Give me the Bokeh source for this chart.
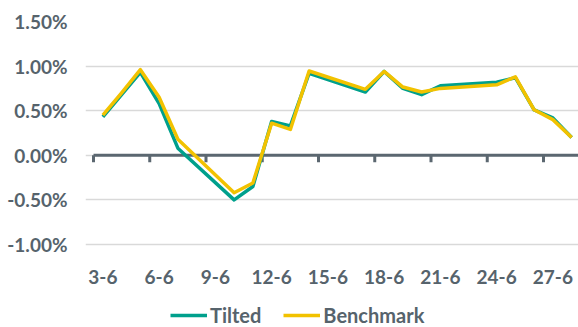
from bokeh.plotting import figure
from bokeh.models import (Range1d, FixedTicker, PrintfTickFormatter, LinearAxis,
                          Legend, LegendItem)
from bokeh.embed import file_html
from bokeh.resources import INLINE

# Daily returns in June (business days only), in percent
days = [3, 4, 5, 6, 7, 10, 11, 12, 13, 14, 17, 18, 19, 20, 21, 24, 25, 26, 27, 28]
tilted = [0.43, 0.68, 0.93, 0.58, 0.08, -0.50, -0.35, 0.38, 0.33, 0.92,
          0.71, 0.94, 0.75, 0.68, 0.78, 0.82, 0.87, 0.51, 0.42, 0.20]
benchmark = [0.45, 0.70, 0.96, 0.65, 0.18, -0.42, -0.31, 0.36, 0.29, 0.945,
             0.74, 0.94, 0.765, 0.71, 0.75, 0.79, 0.88, 0.51, 0.40, 0.20]
month = 6
label_days = [3, 6, 9, 12, 15, 18, 21, 24, 27]
y_ticks = [-1.0, -0.5, 0.0, 0.5, 1.0, 1.5]

TEAL = "#00a08c"
YELLOW = "#f2c200"
TEXT = "#56636c"
AXIS = "#5b6770"
FONT = "Lato"
FSIZE = "19px"

W, H, TOP = 578, 327, 21
LEFT = 85          # frame starts a little left of the first day slot
slot_left = 93     # pixel where the first day slot begins
day_px = 18.75     # width of one day slot

# the frame runs to the bottom edge; the room under the lowest gridline
# holds the date labels and the legend
plot_h = H - TOP
bottom_gap = 83
span = y_ticks[-1] - y_ticks[0]
y_start = y_ticks[0] - span * bottom_gap / (plot_h - bottom_gap)
px_per_unit = (plot_h - bottom_gap) / span

first, last = days[0], days[-1]
x_start = first - 0.5 - (slot_left - LEFT) / day_px
x_end = x_start + (W - LEFT) / day_px

p = figure(width=W, height=H, output_backend="svg", toolbar_location=None,
           x_range=Range1d(x_start, x_end),
           y_range=Range1d(y_start, y_ticks[-1]),
           x_axis_location=None,
           min_border_left=LEFT, min_border_right=0, min_border_top=TOP,
           min_border_bottom=0)
p.outline_line_color = None
p.background_fill_color = "white"
p.border_fill_color = "white"

# y axis: percent labels, no line or ticks
p.yaxis.ticker = FixedTicker(ticks=y_ticks)
p.yaxis.formatter = PrintfTickFormatter(format="%.2f%%")
p.yaxis.axis_line_color = None
p.yaxis.major_tick_line_color = None
p.yaxis.minor_tick_line_color = None
p.yaxis.major_label_standoff = 12
p.yaxis.major_label_text_font = FONT
p.yaxis.major_label_text_font_style = "bold"
p.yaxis.major_label_text_font_size = FSIZE
p.yaxis.major_label_text_color = TEXT

p.xgrid.grid_line_color = None
p.ygrid.grid_line_color = "#d9d9d9"
p.ygrid.grid_line_width = 1.5
p.ygrid.bounds = (first - 0.5, last + 0.5)

# category axis crossing at zero, ticks between groups of three days
bounds = [d - 0.5 for d in label_days] + [label_days[-1] + 2.5]
tick_len = 7 / px_per_unit
p.segment(x0=[first - 0.5], y0=[0], x1=[last + 0.5], y1=[0],
          line_color=AXIS, line_width=3)
p.segment(x0=bounds, y0=[0] * len(bounds), x1=bounds,
          y1=[-tick_len] * len(bounds), line_color=AXIS, line_width=3)

# date labels hung under the lowest gridline
date_axis = LinearAxis(fixed_location=y_ticks[0],
                       ticker=FixedTicker(ticks=label_days),
                       major_label_overrides={d: f"{d}-{month}" for d in label_days},
                       axis_line_color=None, major_tick_line_color=None,
                       minor_tick_line_color=None, major_label_standoff=19,
                       major_label_text_font=FONT,
                       major_label_text_font_style="bold",
                       major_label_text_font_size=FSIZE,
                       major_label_text_color=TEXT)
p.add_layout(date_axis, "below")

r_t = p.line(days, tilted, line_color=TEAL, line_width=3.5, line_join="round")
r_b = p.line(days, benchmark, line_color=YELLOW, line_width=3.5, line_join="round")

legend = Legend(items=[LegendItem(label="Tilted", renderers=[r_t]),
                       LegendItem(label="Benchmark", renderers=[r_b])],
                orientation="horizontal", location=(slot_left + 77 - LEFT, 0),
                padding=0, margin=0, spacing=22, glyph_width=37,
                label_standoff=3, border_line_color=None,
                background_fill_alpha=0,
                label_text_font=FONT, label_text_font_style="bold",
                label_text_font_size="20px", label_text_color=TEXT)
p.add_layout(legend, "center")

open("out.html", "w").write(file_html(p, INLINE))
